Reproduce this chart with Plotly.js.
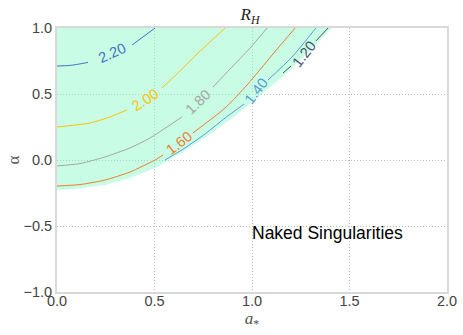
<!DOCTYPE html>
<html>
<head>
<meta charset="utf-8">
<script src="https://cdn.plot.ly/plotly-3.0.1.min.js"></script>
<style>html,body{margin:0;padding:0;background:#fff;}#chart{width:463px;height:335px;}</style>
</head>
<body>
<div id="chart"></div>
<script>
// Edge of the region with a horizon (a_*, alpha)
var boundaryA     = [0.000, 0.118, 0.246, 0.374, 0.503, 0.646, 0.785, 0.913, 1.000, 1.092, 1.185, 1.272, 1.349, 1.410];
var boundaryAlpha = [-0.227, -0.216, -0.189, -0.136, -0.061, 0.061, 0.197, 0.333, 0.439, 0.553, 0.667, 0.795, 0.909, 1.000];
var regionCornerA = [0.0];
var regionCornerAlpha = [1.0];

// Contour lines of R_H (null = gap under the inline label)
var levels = ["2.20", "2.00", "1.80", "1.60", "1.40", "1.20"];
var c220A     = [0.000, 0.070, 0.159, null, 0.385, 0.503];
var c220Alpha = [0.712, 0.717, 0.739, null, 0.871, 1.000];
var c200A     = [0.000, 0.169, 0.272, 0.359, null, 0.538, 0.615, 0.697, 0.862];
var c200Alpha = [0.250, 0.280, 0.326, 0.379, null, 0.545, 0.652, 0.773, 1.000];
var c180A     = [0.000, 0.118, 0.246, 0.374, 0.477, 0.641, null, 0.800, 0.887, 0.990, 1.077];
var c180Alpha = [-0.045, -0.027, 0.023, 0.091, 0.167, 0.326, null, 0.553, 0.689, 0.848, 1.000];
var c160A     = [0.000, 0.118, 0.246, 0.374, 0.503, 0.544, null, 0.697, 0.862, 0.979, 1.103, 1.221];
var c160Alpha = [-0.197, -0.186, -0.152, -0.091, 0.000, 0.038, null, 0.205, 0.394, 0.576, 0.795, 1.000];
var c140A     = [0.554, 0.656, 0.759, 0.862, 0.959, null, 1.082, 1.205, 1.328];
var c140Alpha = [0.000, 0.091, 0.197, 0.318, 0.424, null, 0.606, 0.780, 1.000];
var c120A     = [1.159, 1.200, null, 1.328, 1.390];
var c120Alpha = [0.659, 0.712, null, 0.902, 1.000];

// Inline label positions
var labelA     = [0.282, 0.451, 0.723, 0.626, 1.021, 1.267];
var labelAlpha = [0.811, 0.455, 0.439, 0.129, 0.523, 0.803];
var labelAngle = [-24, -33, -44, -38, -52, -52];

var noteText = "Naked Singularities";
var noteA = [1.385];
var noteAlpha = [-0.553];

var xTicks = [0.0, 0.5, 1.0, 1.5, 2.0];
var xTickText = ["0.0", "0.5", "1.0", "1.5", "2.0"];
var yTicks = [-1.0, -0.5, 0.0, 0.5, 1.0];
var yTickText = ["\u22121.0", "\u22120.5", "0.0", "0.5", "1.0"];

var colors = ["#4472C4", "#FFC000", "#A5A5A5", "#ED7D31", "#5B9BD5", "#44546A"];
var lineA = [c220A, c200A, c180A, c160A, c140A, c120A];
var lineAlpha = [c220Alpha, c200Alpha, c180Alpha, c160Alpha, c140Alpha, c120Alpha];

var traces = [{
  type: "scatter", mode: "lines",
  x: boundaryA.concat(regionCornerA),
  y: boundaryAlpha.concat(regionCornerAlpha),
  fill: "toself", fillcolor: "rgba(133,248,195,0.45)",
  line: {width: 0}, hoverinfo: "skip", showlegend: false
}];
for (var i = 0; i < levels.length; i++) {
  traces.push({
    type: "scatter", mode: "lines",
    x: lineA[i], y: lineAlpha[i],
    line: {color: colors[i], width: 1, shape: "spline", smoothing: 0.6},
    connectgaps: false, showlegend: false, name: levels[i]
  });
}

var annotations = [];
for (var j = 0; j < levels.length; j++) {
  annotations.push({
    x: labelA[j], y: labelAlpha[j], xref: "x", yref: "y",
    text: levels[j], showarrow: false, textangle: labelAngle[j],
    font: {family: "Liberation Sans, Arial, sans-serif", size: 14.5, color: colors[j]}
  });
}
annotations.push({
  x: noteA[0], y: noteAlpha[0], xref: "x", yref: "y",
  text: noteText, showarrow: false,
  font: {family: "Liberation Sans, Arial, sans-serif", size: 17.5, color: "#000"}
});

var tickFont = {family: "Liberation Sans, Arial, sans-serif", size: 14.5, color: "#444"};
var layout = {
  width: 463, height: 335,
  margin: {l: 57, r: 16, t: 28, b: 43, pad: 0},
  paper_bgcolor: "#fff", plot_bgcolor: "#fff",
  showlegend: false,
  title: {
    text: "<i>R</i><sub><i>H</i></sub>",
    x: 0.54, xanchor: "center", xref: "container",
    y: 0.958, yanchor: "middle", yref: "container",
    font: {family: "Liberation Serif, DejaVu Serif, serif", size: 17, color: "#222"}
  },
  xaxis: {
    range: [0, 2], tickvals: xTicks, ticktext: xTickText,
    showgrid: true, gridcolor: "#bdbdbd", griddash: "1px,2px", gridwidth: 1,
    zeroline: false, showline: true, linecolor: "#d9d9d9", linewidth: 2, mirror: true,
    ticks: "", tickfont: tickFont, ticklabelstandoff: -5,
    title: {text: "<i>a</i><sub>*</sub>", standoff: 4,
      font: {family: "Liberation Serif, DejaVu Serif, serif", size: 17, color: "#555"}}
  },
  yaxis: {
    range: [-1, 1], tickvals: yTicks, ticktext: yTickText,
    showgrid: true, gridcolor: "#bdbdbd", griddash: "1px,2px", gridwidth: 1,
    zeroline: false, showline: true, linecolor: "#d9d9d9", linewidth: 2, mirror: true,
    ticks: "", tickfont: tickFont,
    title: {text: "\u03b1", standoff: 0,
      font: {family: "Liberation Serif, DejaVu Serif, serif", size: 17, color: "#555"}}
  },
  annotations: annotations
};

Plotly.newPlot("chart", traces, layout, {staticPlot: true, displayModeBar: false});
</script>
</body>
</html>
